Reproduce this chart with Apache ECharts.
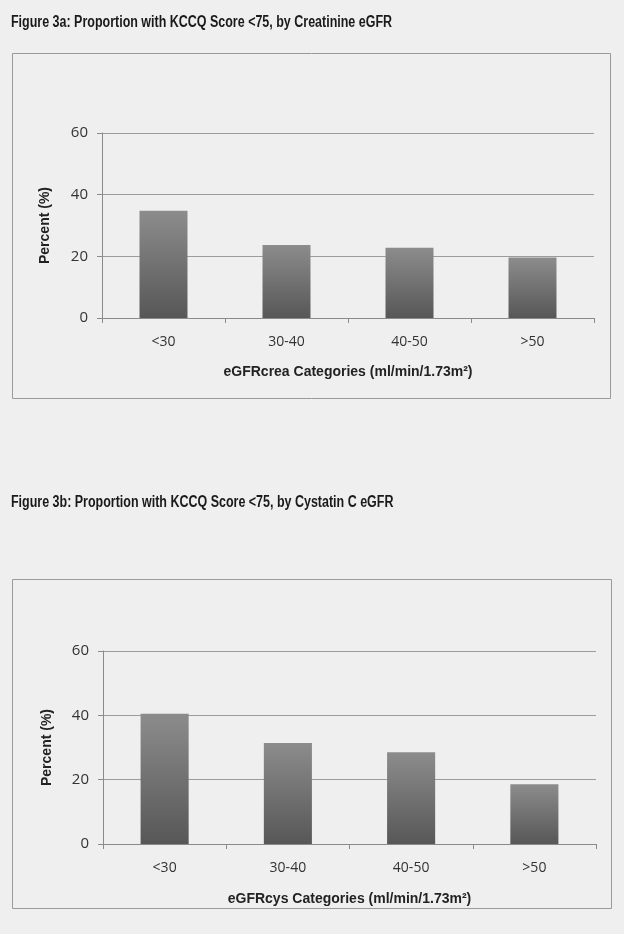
<!DOCTYPE html>
<html><head><meta charset="utf-8">
<script src="https://cdn.jsdelivr.net/npm/echarts@6/dist/echarts.min.js"></script>
<style>html,body{margin:0;padding:0;background:#efefef}#c{width:624px;height:934px}</style>
</head><body><div id="c"></div>
<script>
var categories = ['<30', '30-40', '40-50', '>50'];
var creaValues = [34.8, 23.7, 22.8, 19.6];
var cysValues = [40.5, 31.4, 28.5, 18.6];
var yTicks = [0, 20, 40, 60];
var title1 = 'Figure 3a: Proportion with KCCQ Score <75, by Creatinine eGFR';
var title2 = 'Figure 3b: Proportion with KCCQ Score <75, by Cystatin C eGFR';
var xName1 = 'eGFRcrea Categories (ml/min/1.73m\u00B2)';
var xName2 = 'eGFRcys Categories (ml/min/1.73m\u00B2)';
var yName = 'Percent (%)';

var FONT = "'Liberation Sans', sans-serif";
var TXT = '#222';
var barColor = new echarts.graphic.LinearGradient(0, 0, 0, 1, [
  {offset: 0, color: '#8c8c8c'}, {offset: 1, color: '#575757'}
]);

function xAxis(idx, name, gap) {
  return {
    type: 'category', gridIndex: idx, data: categories,
    name: name, nameLocation: 'middle', nameGap: gap,
    nameTextStyle: {fontFamily: FONT, fontWeight: 'bold', fontSize: 14, color: TXT},
    axisLine: {lineStyle: {color: '#8a8a8a'}},
    axisTick: {show: true, length: 5, lineStyle: {color: '#8a8a8a'}},
    axisLabel: {fontFamily: "'Open Sans', sans-serif", fontSize: 14, color: '#333', margin: 17}
  };
}
function yAxis(idx, gap) {
  return {
    type: 'value', gridIndex: idx, min: 0, max: 60, interval: 20,
    name: yName, nameLocation: 'middle', nameGap: gap, nameRotate: 90,
    nameTextStyle: {fontFamily: FONT, fontWeight: 'bold', fontSize: 14, color: TXT},
    axisLine: {show: true, lineStyle: {color: '#8a8a8a'}},
    axisTick: {show: true, length: 5, lineStyle: {color: '#8a8a8a'}},
    splitLine: {lineStyle: {color: '#9c9c9c'}},
    axisLabel: {fontFamily: "'Open Sans', sans-serif", fontSize: 15, color: '#333', margin: 14,
      formatter: function (v) { return yTicks.indexOf(v) >= 0 ? String(v) : ''; }}
  };
}

var chart = echarts.init(document.getElementById('c'), null, {renderer: 'canvas'});
chart.setOption({
  backgroundColor: '#efefef',
  animation: false,
  graphic: [
    {type: 'text', x: 11, y: 15, scaleX: 0.78, style: {text: title1, fill: '#1a1a1a', font: "bold 16px 'Liberation Sans', sans-serif"}},
    {type: 'text', x: 11, y: 495, scaleX: 0.78, style: {text: title2, fill: '#1a1a1a', font: "bold 16px 'Liberation Sans', sans-serif"}},
    {type: 'rect', shape: {x: 12.5, y: 53.5, width: 598, height: 345}, style: {fill: 'rgba(0,0,0,0)', stroke: '#9a9a9a', lineWidth: 1}, z: -1},
    {type: 'rect', shape: {x: 12.5, y: 579.5, width: 599, height: 329}, style: {fill: 'rgba(0,0,0,0)', stroke: '#9a9a9a', lineWidth: 1}, z: -1}
  ],
  grid: [
    {left: 102, right: 30, top: 133, height: 185},
    {left: 103, right: 28, top: 651, height: 193}
  ],
  xAxis: [xAxis(0, xName1, 47), xAxis(1, xName2, 48)],
  yAxis: [yAxis(0, 50), yAxis(1, 49)],
  series: [
    {type: 'bar', xAxisIndex: 0, yAxisIndex: 0, data: creaValues, barCategoryGap: '61%', itemStyle: {color: barColor}},
    {type: 'bar', xAxisIndex: 1, yAxisIndex: 1, data: cysValues, barCategoryGap: '61%', itemStyle: {color: barColor}}
  ]
});
</script></body></html>
